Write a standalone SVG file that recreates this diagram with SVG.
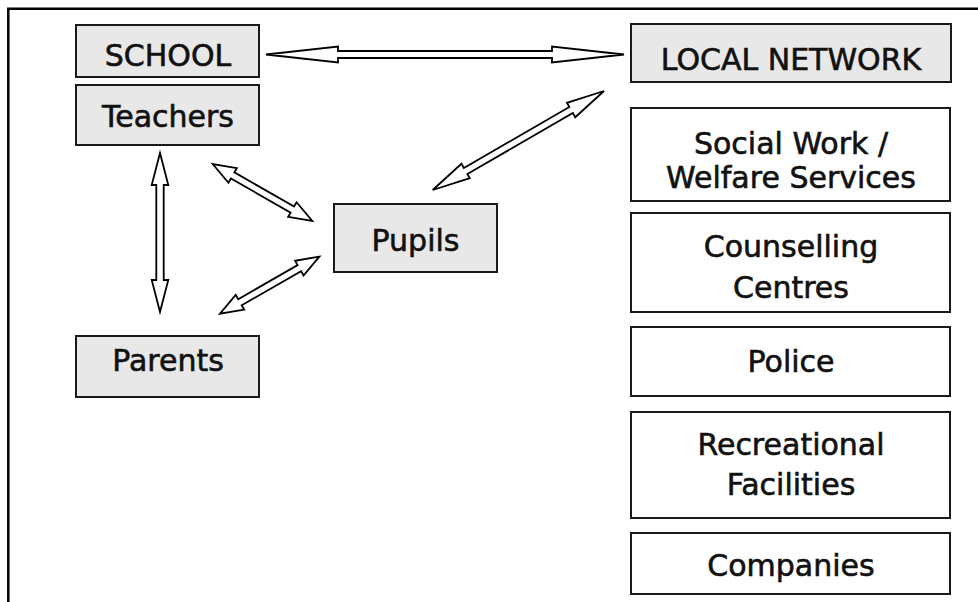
<svg xmlns="http://www.w3.org/2000/svg" width="978" height="602" viewBox="0 0 978 602">
<style>
.frame{fill:none;stroke:#000;stroke-width:2.5}
.g{fill:#e8e8e8;stroke:#1a1a1a;stroke-width:2}
.w{fill:#fff;stroke:#1a1a1a;stroke-width:2}
.t{font-family:"DejaVu Sans",sans-serif;font-size:30px;fill:#111;stroke:#111;stroke-width:0.6;text-anchor:middle}
.arr{fill:#fff;stroke:#000;stroke-width:1.8;stroke-linejoin:miter}
</style>
<rect width="978" height="602" fill="#fff"/>
<path class="frame" d="M8.3,602 V8.7 H978"/>
<g id="school"><rect class="g" x="76" y="25" width="183" height="52"/><text class="t" x="168" y="66">SCHOOL</text></g>
<g id="teachers"><rect class="g" x="76" y="85" width="183" height="60"/><text class="t" x="168" y="127">Teachers</text></g>
<g id="parents"><rect class="g" x="76" y="336" width="183" height="61"/><text class="t" x="168" y="371">Parents</text></g>
<g id="pupils"><rect class="g" x="334" y="204" width="163" height="68"/><text class="t" x="415.5" y="251">Pupils</text></g>
<g id="local-network"><rect class="g" x="631" y="24" width="320" height="58"/><text class="t" x="791" y="70">LOCAL NETWORK</text></g>
<g id="social-work"><rect class="w" x="631" y="108" width="319" height="93"/><text class="t" x="791" y="154">Social Work /</text><text class="t" x="791" y="188">Welfare Services</text></g>
<g id="counselling"><rect class="w" x="631" y="213" width="319" height="99"/><text class="t" x="791" y="257">Counselling</text><text class="t" x="791" y="298">Centres</text></g>
<g id="police"><rect class="w" x="631" y="327" width="319" height="69"/><text class="t" x="791" y="372">Police</text></g>
<g id="recreational"><rect class="w" x="631" y="412" width="319" height="106"/><text class="t" x="791" y="455">Recreational</text><text class="t" x="791" y="495">Facilities</text></g>
<g id="companies"><rect class="w" x="631" y="533" width="319" height="61"/><text class="t" x="791" y="576">Companies</text></g>
<g id="connectors">
<polygon class="arr" points="266,54.5 338,46.5 338,51 552,51 552,46.5 624,54.5 552,62.5 552,58 338,58 338,62.5"/>
<polygon class="arr" points="160,153 168.3,185 163.7,185 163.7,280 168.3,280 160,312 151.7,280 156.3,280 156.3,185 151.7,185"/>
<polygon class="arr" points="212.7,164 228.43,182.79 230.91,178.46 290.61,212.62 288.13,216.95 312.3,221 296.57,202.21 294.09,206.54 234.39,172.38 236.87,168.05"/>
<polygon class="arr" points="319.3,256.7 295.12,260.78 297.61,265.11 238.21,299.21 235.72,294.88 220,313.7 244.18,309.62 241.69,305.29 301.09,271.19 303.58,275.52"/>
<polygon class="arr" points="604,91 566.95,102.83 569.35,106.99 463.85,167.95 461.45,163.79 432.7,190 469.75,178.17 467.35,174.01 572.85,113.05 575.25,117.21"/>
</g>
</svg>
